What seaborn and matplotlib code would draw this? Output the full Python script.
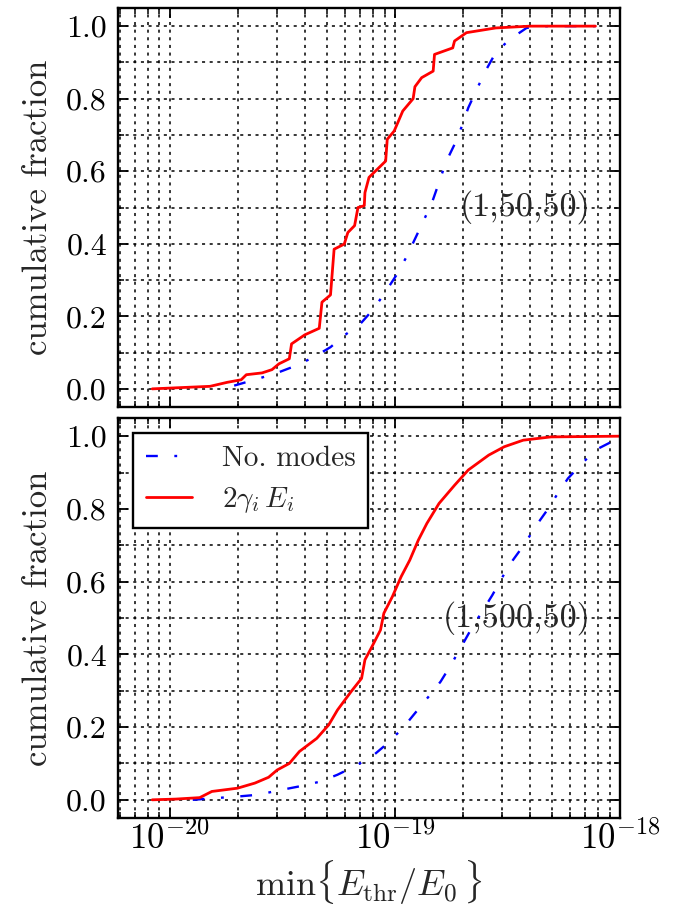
import numpy as np
import pandas as pd
import matplotlib
matplotlib.use("Agg")
import matplotlib.pyplot as plt
import seaborn as sns
from matplotlib.ticker import FixedLocator, MultipleLocator, NullFormatter, LogFormatterMathtext

# ---- data (log10 of min{E_thr/E0}, cumulative fraction) ----
top_red_exp = [-20.078, -19.821, -19.745, -19.683, -19.66, -19.59, -19.546, -19.515, -19.469,
               -19.459, -19.40, -19.336, -19.324, -19.286, -19.27, -19.225, -19.209, -19.179,
               -19.164, -19.136, -19.133, -19.115, -19.041, -19.034, -19.003, -18.965, -18.919,
               -18.911, -18.881, -18.83, -18.824, -18.743, -18.735, -18.682, -18.552, -18.399,
               -18.109]
top_red_frac = [0.0, 0.007, 0.018, 0.025, 0.039, 0.044, 0.053, 0.069, 0.083,
                0.124, 0.149, 0.167, 0.239, 0.259, 0.385, 0.399, 0.431, 0.45,
                0.5, 0.505, 0.541, 0.583, 0.628, 0.688, 0.711, 0.766, 0.8,
                0.833, 0.858, 0.876, 0.922, 0.94, 0.959, 0.982, 0.995, 1.0,
                1.0]

top_blue_exp = [-19.714, -19.607, -19.515, -19.439, -19.362, -19.286, -19.225, -19.148, -19.095,
                -19.041, -18.995, -18.95, -18.911, -18.873, -18.835, -18.804, -18.774, -18.735,
                -18.705, -18.674, -18.636, -18.598, -18.552, -18.491, -18.415, -18.323, -18.109]
top_blue_frac = [0.009, 0.028, 0.046, 0.064, 0.087, 0.115, 0.147, 0.183, 0.22,
                 0.268, 0.312, 0.362, 0.413, 0.463, 0.514, 0.569, 0.624, 0.674,
                 0.72, 0.775, 0.826, 0.876, 0.927, 0.963, 0.995, 1.0, 1.0]

bot_red_exp = [-20.078, -19.974, -19.867, -19.813, -19.699, -19.622, -19.561, -19.523, -19.469,
               -19.424, -19.347, -19.294, -19.255, -19.194, -19.148, -19.133, -19.102, -19.064,
               -19.049, -19.011, -18.972, -18.934, -18.896, -18.858, -18.804, -18.735, -18.674,
               -18.583, -18.514, -18.43, -18.307, -18.0]
bot_red_frac = [0.0, 0.002, 0.006, 0.023, 0.032, 0.046, 0.062, 0.082, 0.1,
                0.133, 0.169, 0.206, 0.247, 0.298, 0.334, 0.385, 0.421, 0.467,
                0.513, 0.559, 0.614, 0.659, 0.714, 0.76, 0.815, 0.865, 0.907,
                0.948, 0.971, 0.989, 0.998, 1.0]

bot_blue_exp = [-19.898, -19.79, -19.699, -19.607, -19.515, -19.424, -19.332, -19.255, -19.179,
                -19.102, -19.041, -18.965, -18.911, -18.85, -18.797, -18.751, -18.705, -18.659,
                -18.613, -18.567, -18.521, -18.476, -18.422, -18.376, -18.323, -18.277, -18.231,
                -18.162, -18.109, -18.017, -17.98]
bot_blue_frac = [0.0, 0.005, 0.009, 0.014, 0.026, 0.037, 0.05, 0.069, 0.092,
                 0.119, 0.151, 0.197, 0.238, 0.284, 0.325, 0.371, 0.421, 0.472,
                 0.517, 0.563, 0.614, 0.659, 0.705, 0.751, 0.797, 0.842, 0.884,
                 0.929, 0.962, 0.991, 1.0]

series_labels = ["No. modes", r"$2\gamma_i\,E_i$"]
panel_labels = ["(1,50,50)", "(1,500,50)"]
x_major_ticks = [1e-20, 1e-19, 1e-18]
x_minor_ticks = [m * 10.0 ** e for e in (-21, -20, -19) for m in range(2, 10)]
x_limits = (10 ** -20.23, 1e-18)
y_limits = (-0.05, 1.05)

# ---- style ----
sns.set_theme(style="white")
plt.rcParams.update({
    "font.family": ["cmr10", "DejaVu Serif"],
    "mathtext.fontset": "cm",
    "axes.formatter.use_mathtext": True,
    "axes.unicode_minus": False,
    "font.size": 23,
    "axes.linewidth": 1.7,
    "axes.edgecolor": "black",
    "xtick.color": "black",
    "ytick.color": "black",
    "xtick.direction": "in",
    "ytick.direction": "in",
    "xtick.top": True,
    "ytick.right": True,
    "xtick.bottom": True,
    "ytick.left": True,
    "xtick.major.size": 7,
    "ytick.major.size": 7,
    "xtick.minor.size": 4.5,
    "ytick.minor.size": 4.5,
    "xtick.major.width": 1.3,
    "ytick.major.width": 1.3,
    "xtick.minor.width": 1.1,
    "ytick.minor.width": 1.1,
    "xtick.labelsize": 25,
    "ytick.labelsize": 23,
    "xtick.major.pad": 2,
    "ytick.major.pad": 8,
})

fig = plt.figure(figsize=(6.8, 9.15), dpi=100)
W, H = 680.0, 915.0
ax1 = fig.add_axes([118 / W, 1 - 407 / H, 502 / W, 399 / H])
ax2 = fig.add_axes([118 / W, 1 - 818 / H, 502 / W, 400 / H])

blue_ls = (0, (5, 7, 1.2, 7))

panels = [
    (ax1, top_blue_exp, top_blue_frac, top_red_exp, top_red_frac, panel_labels[0]),
    (ax2, bot_blue_exp, bot_blue_frac, bot_red_exp, bot_red_frac, panel_labels[1]),
]

for ax, bx, by, rx, ry, ptxt in panels:
    dfb = pd.DataFrame({"x": 10.0 ** np.array(bx), "y": by})
    dfr = pd.DataFrame({"x": 10.0 ** np.array(rx), "y": ry})
    sns.lineplot(data=dfb, x="x", y="y", ax=ax, color="blue", lw=1.7,
                 linestyle=blue_ls, estimator=None, sort=False, label=series_labels[0])
    sns.lineplot(data=dfr, x="x", y="y", ax=ax, color="red", lw=2.0,
                 estimator=None, sort=False, label=series_labels[1])
    ax.set_xscale("log")
    ax.xaxis.set_major_locator(FixedLocator(x_major_ticks))
    ax.xaxis.set_minor_locator(FixedLocator(x_minor_ticks))
    ax.xaxis.set_major_formatter(LogFormatterMathtext())
    ax.xaxis.set_minor_formatter(NullFormatter())
    ax.set_xlim(*x_limits)
    ax.set_ylim(*y_limits)
    ax.yaxis.set_major_locator(MultipleLocator(0.2))
    ax.yaxis.set_minor_locator(MultipleLocator(0.1))
    ax.yaxis.set_major_formatter(matplotlib.ticker.FormatStrFormatter("%.1f"))
    ax.grid(True, which="both", color="black", linestyle=(0, (2, 3)), linewidth=1.1)
    ax.set_axisbelow(True)
    ax.set_ylabel("cumulative fraction", fontsize=25, labelpad=9)
    ax.set_xlabel("")
    ax.text(10 ** -18.13, 0.5, ptxt, ha="right", va="center", fontsize=24.5)
    for s in ax.spines.values():
        s.set_visible(True)
        s.set_color("black")
        s.set_linewidth(1.7)

ax1.tick_params(axis="x", which="both", labelbottom=False)
ax1.get_legend().remove()
ax2.set_xlabel(r"$\min\{E_{\rm thr}/E_0\,\}$", fontsize=26, labelpad=2)

leg = ax2.legend(loc="upper left", frameon=True, fancybox=False, shadow=False,
                 edgecolor="black", framealpha=1.0, fontsize=21,
                 handlelength=1.6, handletextpad=1.0, borderpad=0.45,
                 labelspacing=0.45, borderaxespad=0.5)
leg.get_frame().set_linewidth(1.7)

fig.savefig("out.png", dpi=100)
